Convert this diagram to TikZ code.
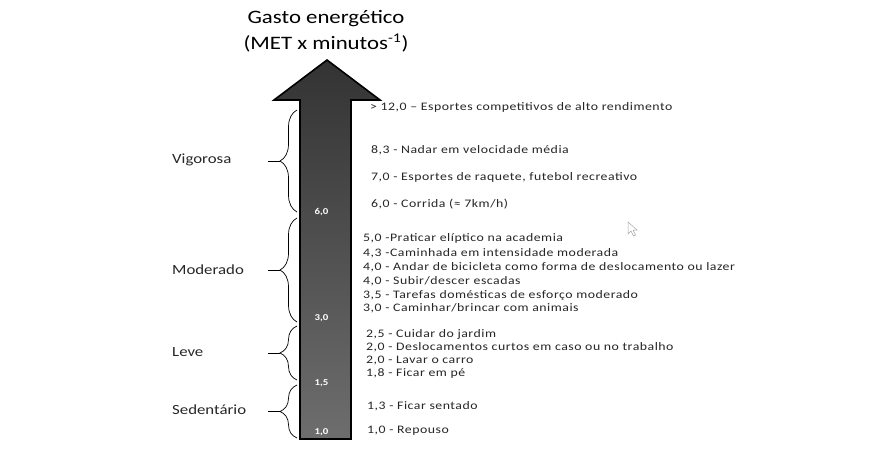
\documentclass[tikz,border=0pt]{standalone}
\usepackage{fontspec}
\setmainfont{Carlito}
\newfontfamily\widefont[FakeStretch=1.2]{Carlito}
\newfontfamily\itemfont[FakeStretch=1.2,LetterSpace=4.5]{Carlito}
\usetikzlibrary{decorations.pathreplacing}
\definecolor{txt}{HTML}{262626}
\begin{document}
\begin{tikzpicture}[x=1pt,y=-1pt,
  item/.style={anchor=west,inner sep=0pt,text=txt,font=\itemfont\fontsize{11.5}{12}\selectfont},
  lvl/.style={anchor=west,inner sep=0pt,text=txt,font=\widefont\fontsize{14}{15}\selectfont},
  val/.style={inner sep=0pt,text=white,font=\widefont\bfseries\fontsize{9}{10}\selectfont},
  ttl/.style={inner sep=0pt,text=black,font=\widefont\fontsize{19}{22}\selectfont},
  bracestyle/.style={draw=black,line width=0.7pt,decorate,decoration={brace,amplitude=17pt}},
  tick/.style={draw=black,line width=0.7pt}]
\useasboundingbox (0,0) rectangle (877,463);
% title
\node[ttl] (title1) at (326,19) {Gasto energético};
\node[ttl] (title2) at (326,43) {(MET x minutos\textsuperscript{-1})};
% arrow
\shade[top color=black!80,bottom color=black!57,draw=black,line width=1.6pt]
  (300,439) -- (300,100) -- (274,100) -- (327,60) -- (380,100) -- (351,100) -- (351,439) -- cycle;
% values
\node[val] (v60) at (321.5,212) {6,0};
\node[val] (v30) at (321.5,318) {3,0};
\node[val] (v15) at (321.5,383) {1,5};
\node[val] (v10) at (321.5,432) {1,0};
% braces
\coordinate (b1a) at (297,212); \coordinate (b1b) at (297,110);
\coordinate (b2a) at (297,322); \coordinate (b2b) at (297,218);
\coordinate (b3a) at (297,380); \coordinate (b3b) at (297,326);
\coordinate (b4a) at (297,438); \coordinate (b4b) at (297,385);
\draw[bracestyle] (b1a) -- (b1b);
\draw[bracestyle] (b2a) -- (b2b);
\draw[bracestyle] (b3a) -- (b3b);
\draw[bracestyle] (b4a) -- (b4b);
\coordinate (t1) at (280,161); \coordinate (t1e) at (268,161);
\coordinate (t2) at (280,270); \coordinate (t2e) at (268,270);
\coordinate (t3) at (280,353); \coordinate (t3e) at (268,353);
\coordinate (t4) at (280,411.5); \coordinate (t4e) at (268,411.5);
\draw[tick] (t1) -- (t1e);
\draw[tick] (t2) -- (t2e);
\draw[tick] (t3) -- (t3e);
\draw[tick] (t4) -- (t4e);
% level labels
\node[lvl] (lvig) at (172,160) {Vigorosa};
\node[lvl] (lmod) at (172,270) {Moderado};
\node[lvl] (llev) at (172,352) {Leve};
\node[lvl] (lsed) at (172,410) {Sedentário};
% items
\node[item] (i1) at (370,107) {> 12,0 – Esportes competitivos de alto rendimento};
\node[item] (i2) at (371,150) {8,3 - Nadar em velocidade média};
\node[item] (i3) at (371,177) {7,0 - Esportes de raquete, futebol recreativo};
\node[item] (i4) at (371,204) {6,0 - Corrida (≈ 7km/h)};
\node[item] (i5) at (363,238) {5,0 -Praticar elíptico na academia};
\node[item] (i6) at (363,253) {4,3 -Caminhada em intensidade moderada};
\node[item] (i7) at (363,267) {4,0 - Andar de bicicleta como forma de deslocamento ou lazer};
\node[item] (i8) at (363,281) {4,0 - Subir/descer escadas};
\node[item] (i9) at (363,295) {3,5 - Tarefas domésticas de esforço moderado};
\node[item] (i10) at (363,308) {3,0 - Caminhar/brincar com animais};
\node[item] (i11) at (366,334) {2,5 - Cuidar do jardim};
\node[item] (i12) at (366,347) {2,0 - Deslocamentos curtos em caso ou no trabalho};
\node[item] (i13) at (366,360) {2,0 - Lavar o carro};
\node[item] (i14) at (366,373) {1,8 - Ficar em pé};
\node[item] (i15) at (367,406) {1,3 - Ficar sentado};
\node[item] (i16) at (367,431) {1,0 - Repouso};
% cursor artifact
\draw[black!35,fill=white,line width=0.5pt] (628,222) -- (628,234) -- (631,231) -- (633.5,236) -- (635.5,235) -- (633,230) -- (637,230) -- cycle;
\end{tikzpicture}
\end{document}
